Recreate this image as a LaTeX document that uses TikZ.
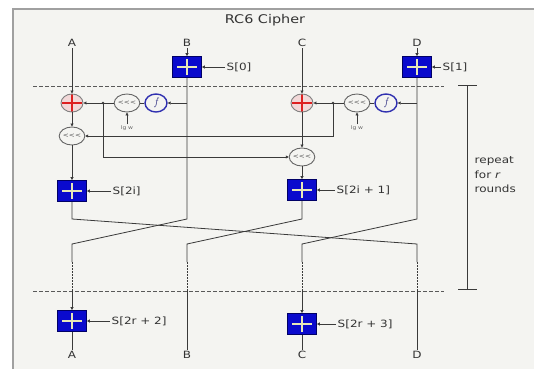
\documentclass[tikz,border=0pt]{standalone}
\usepackage{fontspec}
\newfontfamily\df{DejaVu Sans}[FakeStretch=1.2]
\usetikzlibrary{arrows.meta,shapes.geometric}
\definecolor{bgc}{HTML}{F4F4F1}
\definecolor{framec}{HTML}{A0A0A0}
\definecolor{linec}{HTML}{3A3A3A}
\definecolor{boxblue}{HTML}{0A0ACD}
\definecolor{boxedge}{HTML}{000066}
\definecolor{pluslight}{HTML}{E8E8B8}
\definecolor{xorfill}{HTML}{F2D8D8}
\definecolor{xorred}{HTML}{DD2020}
\definecolor{fblue}{HTML}{3030B0}
\definecolor{txtc}{HTML}{333333}
\tikzset{
  ln/.style={draw=linec, line width=0.8pt},
  arr/.style={ln, -{Triangle[length=3pt,width=3pt]}},
  lab/.style={font=\df\fontsize{10}{12}\selectfont, text=txtc, inner sep=1.5pt},
  addbox/.style={rectangle, minimum width=29pt, minimum height=21pt, inner sep=0pt,
    fill=boxblue, draw=boxedge, line width=0.8pt,
    path picture={\draw[pluslight, line width=1.3pt]
      ([xshift=-10pt]path picture bounding box.center) -- ([xshift=10pt]path picture bounding box.center)
      ([yshift=-8pt]path picture bounding box.center) -- ([yshift=8pt]path picture bounding box.center);}},
  xorop/.style={ellipse, minimum width=22pt, minimum height=18pt, inner sep=0pt,
    fill=xorfill, draw=gray, line width=0.9pt,
    path picture={\draw[xorred, line width=1.2pt]
      ([xshift=-10pt]path picture bounding box.center) -- ([xshift=10pt]path picture bounding box.center)
      ([yshift=-9pt]path picture bounding box.center) -- ([yshift=9pt]path picture bounding box.center);}},
  rotop/.style={ellipse, minimum width=23pt, minimum height=18pt, inner sep=0pt,
    fill=bgc, draw=gray!80!black, line width=0.9pt, text=gray!70!black,
    font=\df\fontsize{6}{6}\selectfont},
  fop/.style={ellipse, minimum width=22pt, minimum height=18pt, inner sep=0pt,
    fill=bgc, draw=fblue, line width=1.4pt, text=fblue!70!black,
    font=\fontsize{11}{11}\selectfont\itshape},
  dotln/.style={draw=linec, line width=1pt, dash pattern=on 1.5pt off 1.5pt},
  sepline/.style={draw=gray!70!black, line width=0.8pt, dash pattern=on 4pt off 2pt},
  jdot/.style={circle, fill=linec, inner sep=0pt, minimum size=2.6pt}
}
\begin{document}
\begin{tikzpicture}[x=1pt,y=-1pt]
\useasboundingbox (0,0) rectangle (534,369);
% frame
\fill[bgc] (13,9) rectangle (534,369);
\draw[framec, line width=1.5pt] (13,369) -- (13,9) -- (534,9);
\node[font=\df\fontsize{12}{14}\selectfont, text=txtc] (title) at (265,20) {RC6 Cipher};
% top labels
\node[lab] (At) at (72,43) {A};
\node[lab] (Bt) at (187,43) {B};
\node[lab] (Ct) at (302,43) {C};
\node[lab] (Dt) at (417,43) {D};
% pre-whitening
\node[addbox] (S0) at (187,67) {};
\node[addbox] (S1) at (417,67) {};
\node[lab, anchor=west] (lS0) at (225,67) {S[0]};
\node[lab, anchor=west] (lS1) at (441,67) {S[1]};
\draw[arr] (Bt.south) -- (S0.north);
\draw[arr] (Dt.south) -- (S1.north);
\draw[arr] (lS0.west) -- (S0.east);
\draw[arr] (lS1.west) -- (S1.east);
% separator lines
\coordinate (sepT1) at (33,86); \coordinate (sepT2) at (444,86);
\coordinate (sepB1) at (33,291); \coordinate (sepB2) at (444,291);
\draw[sepline] (sepT1) -- (sepT2);
\draw[sepline] (sepB1) -- (sepB2);
% round operations
\node[xorop] (xa) at (72,103) {};
\node[rotop] (ra) at (127,103) {<<<};
\node[fop] (fa) at (156,103) {f};
\node[xorop] (xc) at (302,103) {};
\node[rotop] (rc) at (357,103) {<<<};
\node[fop] (fc) at (386,103) {f};
\node[rotop] (ra2) at (72,136) {<<<};
\node[rotop] (rc2) at (302,157) {<<<};
\node[font=\df\fontsize{5}{5}\selectfont, text=gray!80!black, inner sep=1pt] (lga) at (127,128) {lg w};
\node[font=\df\fontsize{5}{5}\selectfont, text=gray!80!black, inner sep=1pt] (lgc) at (357,128) {lg w};
\node[addbox] (Sa) at (72,191) {};
\node[addbox] (Sc) at (302,190) {};
\node[lab, anchor=west] (lSa) at (111,191) {S[2i]};
\node[lab, anchor=west] (lSc) at (335,190) {S[2i + 1]};
\coordinate (jb) at (187,103);
\coordinate (jd) at (417,103);
\node[jdot] (ja) at (103,103) {};
\node[jdot] (jc) at (333,103) {};
\coordinate (ja2) at (103,157);
\coordinate (jc2) at (333,136);
\draw[arr] (At.south) -- (xa.north);
\draw[arr] (Ct.south) -- (xc.north);
\draw[arr] (jb) -- (fa.east);
\draw[arr] (jd) -- (fc.east);
\draw[ln] (fa.west) -- (ra.east);
\draw[ln] (fc.west) -- (rc.east);
\draw[arr] (ra.west) -- (xa.east);
\draw[arr] (rc.west) -- (xc.east);
\draw[arr] (lga.north) -- (ra.south);
\draw[arr] (lgc.north) -- (rc.south);
\draw[arr] (xa.south) -- (ra2.north);
\draw[arr] (xc.south) -- (rc2.north);
\draw[arr] (ja.center) -- (ja2) -- (rc2.west);
\draw[arr] (jc.center) -- (jc2) -- (ra2.east);
\draw[arr] (ra2.south) -- (Sa.north);
\draw[arr] (rc2.south) -- (Sc.north);
\draw[arr] (lSa.west) -- (Sa.east);
\draw[arr] (lSc.west) -- (Sc.east);
% permutation
\coordinate (a1) at (72,219);  \coordinate (b1) at (187,219);
\coordinate (c1) at (302,219); \coordinate (d1) at (417,219);
\coordinate (a2) at (72,244);  \coordinate (b2) at (187,244);
\coordinate (c2) at (302,244); \coordinate (d2) at (417,244);
\coordinate (a3) at (72,262);  \coordinate (b3) at (187,262);
\coordinate (c3) at (302,262); \coordinate (d3) at (417,262);
\coordinate (a4) at (72,291);  \coordinate (b4) at (187,291);
\coordinate (c4) at (302,291); \coordinate (d4) at (417,291);
\draw[ln] (Sa.south) -- (a1) -- (d2) -- (d3);
\draw[ln] (S0.south) -- (b1) -- (a2) -- (a3);
\draw[ln] (Sc.south) -- (c1) -- (b2) -- (b3);
\draw[ln] (S1.south) -- (d1) -- (c2) -- (c3);
\draw[dotln] (a3) -- (a4);
\draw[dotln] (b3) -- (b4);
\draw[dotln] (c3) -- (c4);
\draw[dotln] (d3) -- (d4);
% post-whitening
\node[addbox] (Sr2) at (72,321) {};
\node[addbox] (Sr3) at (302,324) {};
\node[lab, anchor=west] (lSr2) at (110,321) {S[2r + 2]};
\node[lab, anchor=west] (lSr3) at (336,324) {S[2r + 3]};
\node[lab] (Ab) at (72,355) {A};
\node[lab] (Bb) at (187,355) {B};
\node[lab] (Cb) at (302,355) {C};
\node[lab] (Db) at (417,355) {D};
\draw[arr] (a4) -- (Sr2.north);
\draw[arr] (c4) -- (Sr3.north);
\draw[arr] (lSr2.west) -- (Sr2.east);
\draw[arr] (lSr3.west) -- (Sr3.east);
\draw[ln] (Sr2.south) -- (Ab.north);
\draw[ln] (Sr3.south) -- (Cb.north);
\draw[ln] (b4) -- (Bb.north);
\draw[ln] (d4) -- (Db.north);
% repeat bracket
\coordinate (brT1) at (458,85); \coordinate (brT2) at (477,85);
\coordinate (brB1) at (458,289); \coordinate (brB2) at (477,289);
\coordinate (brT) at (467,85); \coordinate (brB) at (467,289);
\draw[ln] (brT1) -- (brT2);
\draw[ln] (brB1) -- (brB2);
\draw[ln] (brT) -- (brB);
\node[lab, anchor=west, align=left, font=\df\fontsize{10}{14.5}\selectfont] (rep) at (473,175) {repeat\\for \textit{r}\\rounds};
\end{tikzpicture}
\end{document}
